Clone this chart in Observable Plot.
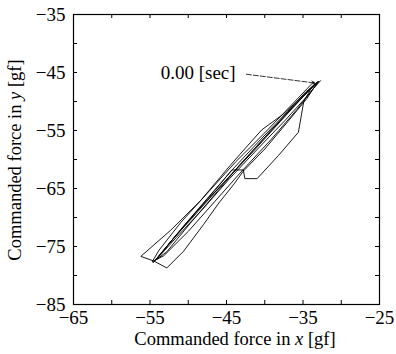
<!DOCTYPE html>
<html><head><meta charset="utf-8">
<script src="https://cdn.jsdelivr.net/npm/d3@7"></script>
<script src="https://cdn.jsdelivr.net/npm/@observablehq/plot@0.6"></script>
<style>
body{margin:0;background:#fff}
</style>
</head><body><div id="chart"></div>
<script>
// Commanded force trajectory [gf], in time order (starts at 0.00 sec)
const forceX = [
  -33.2,-34.0,-34.9,-35.6,-38.2,-41.0,-42.6,-42.8,-44.3,
  -46.5,-49.0,-51.5,-54.3,
  -52.0,-49.5,-46.0,-42.0,-38.5,-35.5,-33.4,
  -35.8,-37.6,-40.4,-42.5,-44.5,-48.4,-52.3,-56.2,-54.5,-52.8,
  -50.6,-48.0,-46.0,-44.0,-42.8,-40.0,-37.0,-34.5,-33.0,
  -35.0,-38.0,-41.5,-45.0,-48.5,-51.0,-53.5,-54.6,
  -53.0,-50.5,-47.5,-44.2,-40.5,-37.0,-34.6,-32.9,
  -34.2,-37.3,-40.8,-44.6,-48.2,-51.6,-54.2,
  -52.8,-49.8,-46.7,-43.5,-39.8,-36.3,-33.5,
  -33.6,-36.5,-40.0,-43.8,-47.5,-51.0,-53.8,-54.7,
  -53.2,-50.0,-46.5,-43.0,-39.2,-35.8,-33.8,-32.7
];
const forceY = [
  -46.7,-47.9,-50.0,-55.3,-59.3,-63.3,-63.3,-61.8,-61.8,
  -65.3,-69.1,-72.9,-77.4,
  -73.7,-70.1,-64.9,-59.1,-54.0,-49.8,-46.9,
  -50.0,-52.2,-54.9,-58.0,-61.0,-67.1,-72.2,-76.7,-77.5,-78.7,
  -75.8,-71.2,-67.5,-64.2,-62.0,-58.2,-53.5,-49.5,-46.5,
  -49.2,-53.5,-58.6,-63.5,-68.4,-72.2,-76.1,-77.8,
  -75.3,-71.3,-66.7,-61.7,-56.5,-51.7,-48.3,-46.5,
  -48.7,-53.2,-58.0,-63.3,-68.7,-73.5,-77.3,
  -75.9,-71.1,-66.3,-61.3,-55.9,-50.9,-47.1,
  -46.6,-50.6,-55.4,-60.4,-65.8,-70.9,-75.6,-77.6,
  -76.6,-72.4,-67.2,-62.0,-56.6,-51.4,-48.0,-46.4
];
const xTicks = [-65,-55,-45,-35,-25];
const yTicks = [-85,-75,-65,-55,-45,-35];
const xMinor = [-60,-55,-50,-45,-40,-35,-30];
const yMinor = [-80,-75,-70,-65,-60,-55,-50,-45,-40];
const noteText = ["0.00 [sec]"];
const noteTextX = [-53.6];
const noteTextY = [-45.0];
const noteArrowFrom = [-42.4, -45.3];
const noteArrowTo = [-33.5, -46.8];

const path = forceX.map((x, i) => ({x, y: forceY[i]}));
const note = [{label: noteText[0], tx: noteTextX[0], ty: noteTextY[0],
  x1: noteArrowFrom[0], y1: noteArrowFrom[1], x2: noteArrowTo[0], y2: noteArrowTo[1]}];

const W = 396, H = 354, ML = 73, MR = 17, MT = 14, MB = 50, TL = 4;
const innerW = W - ML - MR, innerH = H - MT - MB;
const font = "'Liberation Serif', 'Times New Roman', serif";
const plot = Plot.plot({
  width: W, height: H,
  marginLeft: ML, marginRight: MR, marginTop: MT, marginBottom: MB,
  style: {fontFamily: font, fontSize: "19px", background: "#fff", color: "#000", overflow: "visible"},
  x: {domain: [-65, -25]},
  y: {domain: [-85, -35]},
  marks: [
    Plot.axisX(xTicks, {anchor: "bottom", tickSize: 0, tickPadding: 6, label: null, fontSize: 19}),
    Plot.axisY(yTicks, {anchor: "left", tickSize: 0, tickPadding: 8, label: null, fontSize: 19}),
    Plot.tickX(xMinor, {x: d => d, insetTop: innerH - TL, stroke: "#000"}),
    Plot.tickX(xMinor, {x: d => d, insetBottom: innerH - TL, stroke: "#000"}),
    Plot.tickY(yMinor, {y: d => d, insetRight: innerW - TL, stroke: "#000"}),
    Plot.tickY(yMinor, {y: d => d, insetLeft: innerW - TL, stroke: "#000"}),
    Plot.frame({stroke: "#000", strokeWidth: 1.2}),
    Plot.line(path, {x: "x", y: "y", stroke: "#000", strokeWidth: 0.9, curve: "linear"}),
    Plot.arrow(note, {x1: "x1", y1: "y1", x2: "x2", y2: "y2", stroke: "#000", strokeWidth: 0.8,
      strokeDasharray: "5,2", headLength: 6}),
    Plot.text(note, {x: "tx", y: "ty", text: "label", textAnchor: "start", fontSize: 19, fill: "#000"})
  ]
});

const svg = d3.select(plot);
const xl = svg.append("text").attr("x", 235).attr("y", 345)
  .attr("text-anchor", "middle").attr("font-size", 18.5).attr("fill", "#000");
xl.append("tspan").text("Commanded force in ");
xl.append("tspan").attr("font-style", "italic").text("x");
xl.append("tspan").text(" [gf]");
const yl = svg.append("text").attr("transform", "translate(21,160) rotate(-90)")
  .attr("text-anchor", "middle").attr("font-size", 18.5).attr("fill", "#000");
yl.append("tspan").text("Commanded force in ");
yl.append("tspan").attr("font-style", "italic").text("y");
yl.append("tspan").text(" [gf]");
svg.style("font-family", font);
svg.selectAll("text").style("font-family", font).attr("font-family", font);

document.getElementById("chart").appendChild(plot);
</script>
</body></html>
